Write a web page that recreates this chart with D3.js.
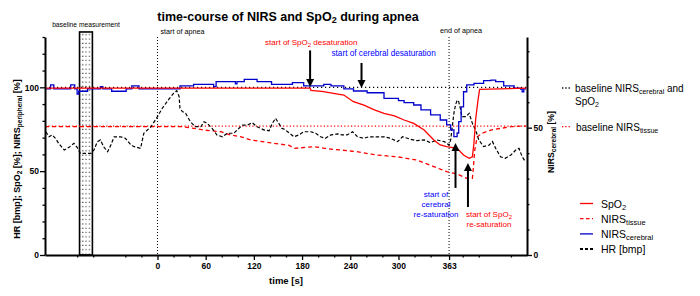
<!DOCTYPE html>
<html>
<head>
<meta charset="utf-8">
<script src="https://cdn.jsdelivr.net/npm/d3@7"></script>
<style>
	body { margin: 0; background: #fff; }
	svg { display: block; font-family: "Liberation Sans", Arial, sans-serif; }
</style>
</head>
<body>
<div id="chart"></div>
<script>

// ---- data (time in s, HR / SpO2 / NIRS tissue on left axis, NIRS cerebral on right axis) ----
const hrTime = [-139,-135,-131,-127,-123,-116,-110,-104,-100,-96,-83,-79,-75,-71,-67,-62,-58,-54,-46,-40,-33,-29,-21,-17,-8,0,6,14,20,24,27,28,31,35,41,47,54,58,62,68,74,81,87,95,99,106,112,118,124,133,139,143,147,151,155,158,162,170,176,182,191,197,203,209,216,224,230,236,243,249,257,263,272,282,290,299,305,315,323,332,340,348,357,363,365,367,369,371,373,375,377,379,384,388,392,396,400,406,413,417,421,427,433,440,446,450,454,458];
const hrVal = [73.5,70.5,71.6,69.6,66.6,62.6,64.2,66.6,64.2,60.6,60.6,62.6,67.5,68.6,64.6,61.6,65.6,70.5,70.5,69.6,65.6,64.6,63.6,72.6,76.5,82.5,87.5,92.8,96.4,98.0,94.4,87.5,85.5,84.5,79.5,76.5,76.5,79.5,78.5,75.5,71.6,70.5,72.6,72.6,74.5,77.5,77.5,78.9,76.5,74.5,74.1,78.5,81.5,78.5,75.5,75.0,73.5,70.5,71.6,73.5,73.5,72.6,70.5,69.6,71.6,72.2,71.6,71.6,73.5,70.5,69.6,70.5,70.5,70.5,69.6,67.6,70.5,69.0,68.2,68.6,67.0,68.6,67.6,65.6,68.6,76.5,84.5,89.4,92.4,91.4,87.5,82.5,82.5,84.5,78.5,74.5,68.6,64.6,65.6,67.6,63.6,58.6,57.7,59.6,62.6,63.6,58.6,55.6];

const spo2Time = [-140,190,191,207,219,232,244,257,270,282,295,307,319,332,344,352,360,373,381,388,392,394,396,399,401,459];
const spo2Val = [99.5,99.5,98.2,97.4,96.4,95.4,91.4,89.4,86.5,84.5,82.9,80.5,78.5,74.5,68.6,65.6,64.6,63.6,59.6,57.7,58.6,66.8,80.5,92.4,98.8,99.5];

const tissueTime = [-140,30,48,58,79,91,104,116,145,164,170,195,211,228,248,273,298,306,323,344,360,373,385,392,393,395,398,404,415,427,440,456,459];
const tissueVal = [76.5,76.5,75.4,74.5,73.5,71.6,70.5,68.6,66.6,65.4,63.6,64.6,63.4,62.6,61.6,59.6,58.6,58.0,56.6,52.7,49.7,48.3,45.7,45.7,50.7,62.6,70.5,72.6,74.5,75.5,76.5,76.9,76.9];

const cerebralTime = [-140,-133,-129,-108,-103,-100,-98,-87,-71,-68,-57,-39,-32,-23,28,45,70,73,97,99,108,124,142,168,182,207,216,232,244,261,282,300,307,319,328,340,352,360,365,369,373,375,378,381,385,394,406,415,421,431,444,452,454,456,459];
const cerebralVal = [65.2,66.8,65.2,66.8,65.2,63.2,64.3,65.2,66.1,65.2,64.3,65.2,66.4,65.2,66.4,67.0,66.1,68.1,67.2,68.1,69.0,68.1,67.0,67.7,66.4,67.0,66.4,65.2,64.4,63.7,61.5,60.6,59.8,58.9,57.0,55.0,53.0,51.1,49.1,46.5,47.9,52.4,58.2,64.1,66.8,67.4,68.5,68.7,68.1,66.4,65.5,65.1,64.1,65.2,65.2];

const baselineLeft = 100;     // baseline NIRS cerebral and SpO2
const baselineTissue = 76.8;  // baseline NIRS tissue
const baselineWindow = [-97, -81];

const xTicks = [0, 60, 120, 180, 240, 300, 363];
const leftTicks = [0, 50, 100];
const rightTicks = [0, 50];

const events = [
	{ label: "start of apnea", t: 0 },
	{ label: "end of apnea", t: 363 }
];

// arrows: time, tip value and tail value (left axis units)
const arrows = [
	{ t: 190, tip: 100.2, tail: 122 },
	{ t: 254, tip: 99.6, tail: 114.5 },
	{ t: 371, tip: 66.8, tail: 40 },
	{ t: 386.5, tip: 54.9, tail: 28.6 }
];

// ---- setup ----
const margin = { top: 37, right: 173, bottom: 41, left: 45 };
const width = 700 - margin.left - margin.right;
const height = 296 - margin.top - margin.bottom;

const svg = d3.select("#chart").append("svg")
	.attr("width", 700)
	.attr("height", 296);

const defs = svg.append("defs");
const pat = defs.append("pattern")
	.attr("id", "dots")
	.attr("patternUnits", "userSpaceOnUse")
	.attr("width", 3.3)
	.attr("height", 4.3);
pat.append("rect").attr("x", 1).attr("y", 1.5).attr("width", 1).attr("height", 1).attr("fill", "#000");

const g = svg.append("g")
	.attr("transform", "translate(" + margin.left + "," + margin.top + ")");

const x = d3.scaleLinear().domain([-140, 460]).range([0, width]);
const yL = d3.scaleLinear().domain([0, 130]).range([height, 0]);
const yR = d3.scaleLinear().domain([0, 85.6]).range([height, 0]);

// helper for text with subscripts; parts = [[text, isSub], ...]
function richText(sel, parts, subSize) {
	parts.forEach((p, i) => {
		let ts = sel.append("tspan").text(p[0]);
		if (p[1]) {
			ts.attr("font-size", subSize).attr("dy", 2);
		} else if (i > 0 && parts[i - 1][1]) {
			ts.attr("dy", -2);
		}
	});
	return sel;
}

// baseline measurement box
g.append("rect")
	.attr("x", x(baselineWindow[0]))
	.attr("y", yL(133))
	.attr("width", x(baselineWindow[1]) - x(baselineWindow[0]))
	.attr("height", height - yL(133))
	.attr("fill", "url(#dots)")
	.attr("stroke", "#000")
	.attr("stroke-width", 1.6);

g.append("text")
	.attr("x", (x(baselineWindow[0]) + x(baselineWindow[1])) / 2)
	.attr("y", -10)
	.attr("text-anchor", "middle")
	.attr("font-size", 6.7)
	.text("baseline measurement");

// horizontal baselines
g.append("line")
	.attr("x1", 0).attr("x2", width)
	.attr("y1", yL(baselineLeft)).attr("y2", yL(baselineLeft))
	.attr("stroke", "#000").attr("stroke-width", 1.2)
	.attr("stroke-dasharray", "1.2,2.8");

g.append("line")
	.attr("x1", 0).attr("x2", width)
	.attr("y1", yL(baselineTissue)).attr("y2", yL(baselineTissue))
	.attr("stroke", "#ff0000").attr("stroke-width", 1.2)
	.attr("stroke-dasharray", "1.2,2.2");

// start / end of apnea
events.forEach((e, i) => {
	g.append("line")
		.attr("x1", x(e.t)).attr("x2", x(e.t))
		.attr("y1", 0).attr("y2", height)
		.attr("stroke", "#000").attr("stroke-width", 1)
		.attr("stroke-dasharray", "1,2");
	g.append("text")
		.attr("x", i == 0 ? x(e.t) + 3 : x(e.t) - 9)
		.attr("y", i == 0 ? -3 : -4)
		.attr("font-size", 7.2)
		.text(e.label);
});

// ---- series ----
const lineL = d3.line().x(d => x(d[0])).y(d => yL(d[1]));
const lineR = d3.line().x(d => x(d[0])).y(d => yR(d[1])).curve(d3.curveStepAfter);

g.append("path")
	.datum(tissueTime.map((t, i) => [t, tissueVal[i]]))
	.attr("d", lineL)
	.attr("fill", "none")
	.attr("stroke", "#ff0000")
	.attr("stroke-width", 1.3)
	.attr("stroke-dasharray", "4,3");

g.append("path")
	.datum(hrTime.map((t, i) => [t, hrVal[i]]))
	.attr("d", lineL)
	.attr("fill", "none")
	.attr("stroke", "#000")
	.attr("stroke-width", 1.2)
	.attr("stroke-dasharray", "3.5,2");

g.append("path")
	.datum(cerebralTime.map((t, i) => [t, cerebralVal[i]]))
	.attr("d", lineR)
	.attr("fill", "none")
	.attr("stroke", "#0000cc")
	.attr("stroke-width", 1.3);

g.append("path")
	.datum(spo2Time.map((t, i) => [t, spo2Val[i]]))
	.attr("d", lineL)
	.attr("fill", "none")
	.attr("stroke", "#ff0000")
	.attr("stroke-width", 1.3);

// ---- arrows ----
arrows.forEach(a => {
	let ax = x(a.t), tip = yL(a.tip), tail = yL(a.tail);
	let dir = tail < tip ? 1 : -1; // 1 = pointing down
	g.append("line")
		.attr("x1", ax).attr("x2", ax)
		.attr("y1", tail).attr("y2", tip - dir * 6)
		.attr("stroke", "#000").attr("stroke-width", 2);
	g.append("path")
		.attr("d", "M" + (ax - 4) + "," + (tip - dir * 8) + "L" + (ax + 4) + "," + (tip - dir * 8) + "L" + ax + "," + tip + "Z")
		.attr("fill", "#000");
});

// annotation texts
richText(g.append("text")
	.attr("x", x(190) - 45).attr("y", 8)
	.attr("font-size", 8).attr("fill", "#ff0000"),
	[["start of SpO", false], ["2", true], [" desaturation", false]], 6);

g.append("text")
	.attr("x", x(254) - 30).attr("y", 18.5)
	.attr("font-size", 8.2).attr("fill", "#0000ff")
	.text("start of cerebral desaturation");

const blueNote = g.append("text")
	.attr("font-size", 8).attr("fill", "#0000ff")
	.attr("text-anchor", "middle");
["start of", "cerebral", "re-saturation"].forEach((s, i) => {
	blueNote.append("tspan").attr("x", x(371) - 19.5).attr("y", 160 + i * 10).text(s);
});

const redNote = g.append("text")
	.attr("font-size", 8).attr("fill", "#ff0000")
	.attr("text-anchor", "middle");
richText(redNote.append("tspan").attr("x", x(386.5) + 21).attr("y", 179.5),
	[["start of SpO", false], ["2", true]], 6);
redNote.append("tspan").attr("x", x(386.5) + 21).attr("y", 190).text("re-saturation");

// ---- axes ----
function styleAxis(sel, minor) {
	sel.select(".domain").attr("stroke-width", minor ? 0 : 2);
	sel.selectAll(".tick line").attr("stroke-width", 1.3);
	sel.selectAll(".tick text")
		.attr("font-size", 8.5)
		.attr("font-weight", "bold")
		.attr("font-family", "'Liberation Sans', Arial, sans-serif");
}

g.append("g").attr("class", "x-axis minor")
	.attr("transform", "translate(0," + height + ")")
	.call(d3.axisBottom(x)
		.tickValues(d3.range(-120, 460, 20).filter(v => v % 60 != 0 && v != 360))
		.tickSize(2.5).tickSizeOuter(0).tickFormat(""))
	.call(s => styleAxis(s, true));

g.append("g").attr("class", "x-axis")
	.attr("transform", "translate(0," + height + ")")
	.call(d3.axisBottom(x).tickValues(xTicks).tickSize(5).tickSizeOuter(0).tickPadding(2.5))
	.call(s => styleAxis(s, false));

g.append("g").attr("class", "y-axis minor")
	.call(d3.axisLeft(yL).tickValues(d3.range(10, 131, 10).filter(v => v % 50 != 0))
		.tickSize(2.5).tickSizeOuter(0).tickFormat(""))
	.call(s => styleAxis(s, true));

g.append("g").attr("class", "y-axis")
	.call(d3.axisLeft(yL).tickValues(leftTicks).tickSize(5).tickSizeOuter(0).tickPadding(1))
	.call(s => styleAxis(s, false));

g.append("g").attr("class", "y2-axis minor")
	.attr("transform", "translate(" + width + ",0)")
	.call(d3.axisRight(yR).tickValues(d3.range(10, 81, 10).filter(v => v % 50 != 0))
		.tickSize(2.5).tickSizeOuter(0).tickFormat(""))
	.call(s => styleAxis(s, true));

g.append("g").attr("class", "y2-axis")
	.attr("transform", "translate(" + width + ",0)")
	.call(d3.axisRight(yR).tickValues(rightTicks).tickSize(5).tickSizeOuter(0).tickPadding(1.5))
	.call(s => styleAxis(s, false));

// axis titles
g.append("text")
	.attr("x", width / 2)
	.attr("y", height + 29)
	.attr("text-anchor", "middle")
	.attr("font-size", 9.5)
	.attr("font-weight", "bold")
	.text("time [s]");

richText(g.append("text")
	.attr("transform", "translate(-25," + 122 + ") rotate(-90)")
	.attr("text-anchor", "middle")
	.attr("font-size", 9)
	.attr("font-weight", "bold"),
	[["HR [bmp]; SpO", false], ["2", true], [" [%]; NIRS", false], ["peripheral", true], [" [%]", false]], 6.5);

richText(g.append("text")
	.attr("transform", "translate(" + (width + 27) + "," + 105 + ") rotate(-90)")
	.attr("text-anchor", "middle")
	.attr("font-size", 8.7)
	.attr("font-weight", "bold"),
	[["NIRS", false], ["cerebral", true], [" [%]", false]], 6.5);

// title
richText(svg.append("text")
	.attr("x", 288)
	.attr("y", 21)
	.attr("text-anchor", "middle")
	.attr("font-size", 12.5)
	.attr("font-weight", "bold"),
	[["time-course of NIRS and SpO", false], ["2", true], [" during apnea", false]], 9);

// ---- legends ----
const lx = margin.left + width;

svg.append("line")
	.attr("x1", lx + 35).attr("x2", lx + 43)
	.attr("y1", 88).attr("y2", 88)
	.attr("stroke", "#000").attr("stroke-width", 1.3).attr("stroke-dasharray", "1.3,2");
const t1 = svg.append("text").attr("font-size", 10);
richText(t1.append("tspan").attr("x", lx + 48).attr("y", 92),
	[["baseline NIRS", false], ["cerebral", true], [" and", false]], 7);
richText(t1.append("tspan").attr("x", lx + 48).attr("y", 105),
	[["SpO", false], ["2", true]], 7);

svg.append("line")
	.attr("x1", lx + 35).attr("x2", lx + 43)
	.attr("y1", 126.7).attr("y2", 126.7)
	.attr("stroke", "#ff0000").attr("stroke-width", 1.3).attr("stroke-dasharray", "1.3,2");
richText(svg.append("text").attr("font-size", 10)
	.attr("x", lx + 49).attr("y", 130.5),
	[["baseline NIRS", false], ["tissue", true]], 7);

const legendItems = [
	{ parts: [["SpO", false], ["2", true]], color: "#ff0000", dash: null },
	{ parts: [["NIRS", false], ["tissue", true]], color: "#ff0000", dash: "3.5,2.5" },
	{ parts: [["NIRS", false], ["cerebral", true]], color: "#0000cc", dash: null },
	{ parts: [["HR [bmp]", false]], color: "#000", dash: "3,2" }
];

legendItems.forEach((d, i) => {
	let ly = 203.5 + i * 15.2;
	svg.append("line")
		.attr("x1", lx + 53).attr("x2", lx + 66)
		.attr("y1", ly).attr("y2", ly)
		.attr("stroke", d.color)
		.attr("stroke-width", d.color == "#000" ? 2 : 1.3)
		.attr("stroke-dasharray", d.dash);
	richText(svg.append("text").attr("font-size", 10.5)
		.attr("x", lx + 74).attr("y", ly + 4),
		d.parts, 7.5);
});

</script>
</body>
</html>
